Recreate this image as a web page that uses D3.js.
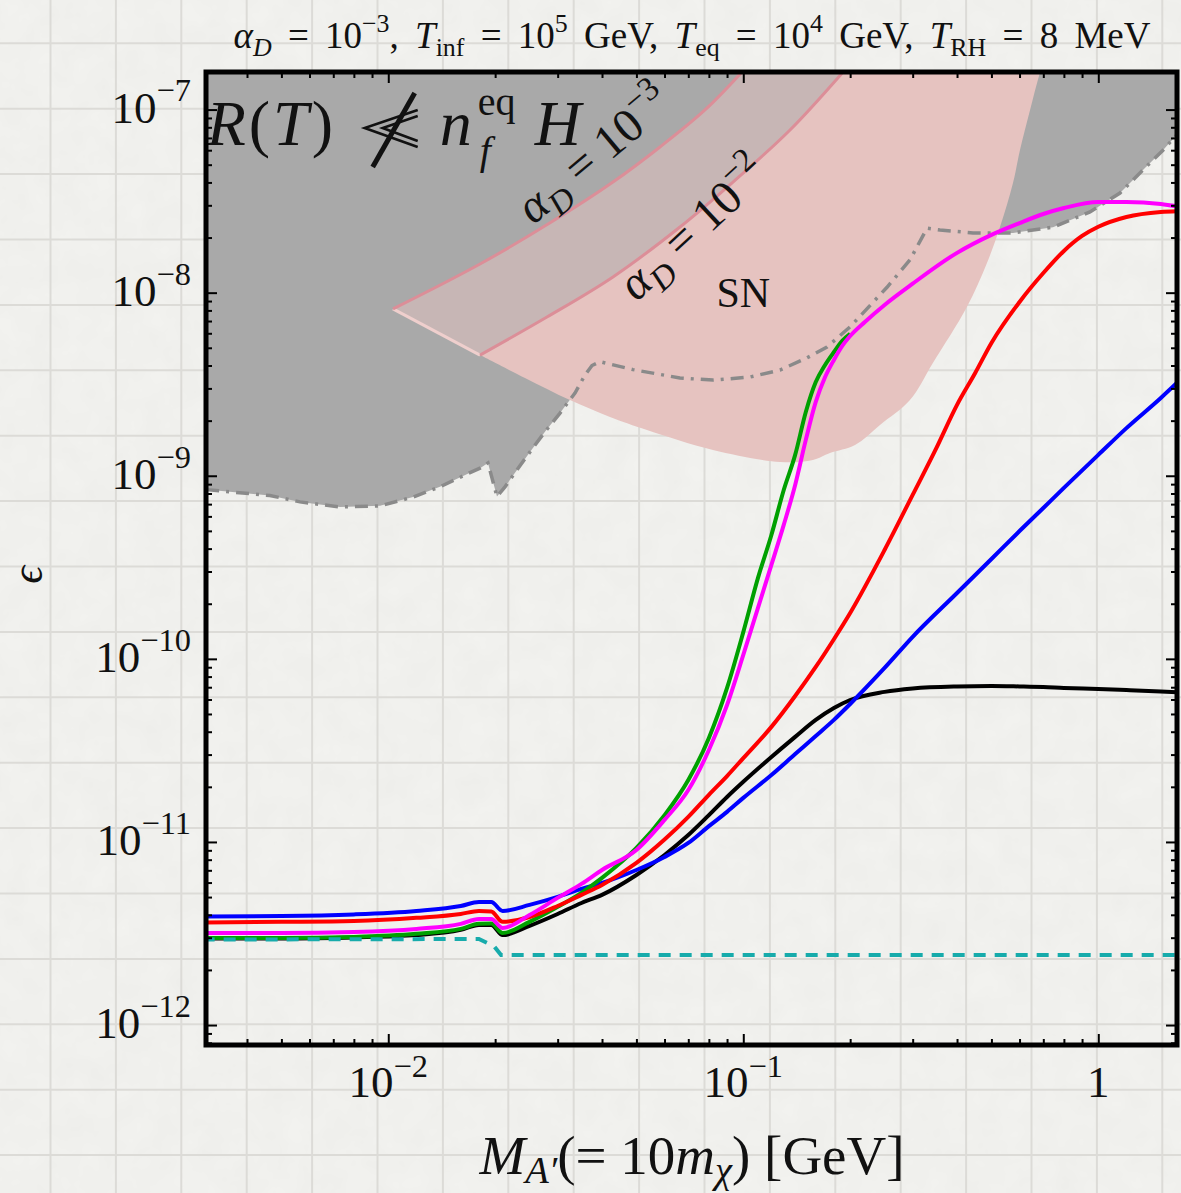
<!DOCTYPE html>
<html>
<head>
<meta charset="utf-8">
<script src="https://cdn.jsdelivr.net/npm/d3@7"></script>
<style>
  html, body { margin: 0; padding: 0; background: #f3f3f0; }
  svg { display: block; }
</style>
</head>
<body>
<svg id="chart" width="1181" height="1193"></svg>
<script>
// ---------------- data ----------------
// axis limits (dark-photon mass in GeV, kinetic mixing epsilon)
const xLimits = [0.003066, 1.666];
const yLimits = [7.78e-13, 1.604e-7];

const xMajorTicks = [0.01, 0.1, 1];
const xTickLabels = [["10", "\u22122"], ["10", "\u22121"], ["1", ""]];
const yMajorTicks = [1e-12, 1e-11, 1e-10, 1e-9, 1e-8, 1e-7];
const yTickLabels = [["10", "\u221212"], ["10", "\u221211"], ["10", "\u221210"], ["10", "\u22129"], ["10", "\u22128"], ["10", "\u22127"]];

// mass grid shared by the black and blue curves
const massGrid = [0.003, 0.005, 0.008, 0.012, 0.016, 0.018, 0.0195, 0.021, 0.025, 0.03,
  0.035, 0.04, 0.05, 0.06, 0.07, 0.08, 0.09, 0.1, 0.12, 0.14, 0.16, 0.18, 0.2, 0.25,
  0.3, 0.4, 0.5, 0.6, 0.7, 0.8, 1.0, 1.2, 1.5, 1.7];

const epsBlue = [3.92e-12, 3.94e-12, 4.02e-12, 4.20e-12, 4.47e-12, 4.70e-12, 4.70e-12, 4.20e-12,
  4.53e-12, 5.01e-12, 5.54e-12, 5.97e-12, 7.03e-12, 8.28e-12, 9.87e-12, 1.22e-11, 1.46e-11,
  1.74e-11, 2.32e-11, 3.02e-11, 3.79e-11, 4.64e-11, 5.67e-11, 8.92e-11, 1.32e-10, 2.29e-10,
  3.51e-10, 4.99e-10, 6.67e-10, 8.58e-10, 1.30e-9, 1.82e-9, 2.66e-9, 3.34e-9];

const epsBlack = [2.97e-12, 2.97e-12, 3.01e-12, 3.10e-12, 3.31e-12, 3.52e-12, 3.52e-12, 3.10e-12,
  3.48e-12, 4.04e-12, 4.64e-12, 5.14e-12, 6.60e-12, 8.49e-12, 1.09e-11, 1.40e-11, 1.76e-11,
  2.13e-11, 2.91e-11, 3.75e-11, 4.64e-11, 5.39e-11, 5.96e-11, 6.60e-11, 6.89e-11, 7.07e-11,
  7.11e-11, 7.07e-11, 7.02e-11, 6.94e-11, 6.85e-11, 6.76e-11, 6.64e-11, 6.56e-11];

const massRed = [0.003, 0.005, 0.008, 0.012, 0.016, 0.018, 0.0195, 0.021, 0.025, 0.03,
  0.035, 0.04, 0.05, 0.06, 0.07, 0.08, 0.09, 0.1, 0.12, 0.14, 0.16, 0.18, 0.2, 0.25,
  0.3, 0.35, 0.4, 0.45, 0.5, 0.6, 0.7, 0.8, 0.9, 1.0, 1.2, 1.5, 1.7];
const epsRed = [3.63e-12, 3.66e-12, 3.70e-12, 3.85e-12, 4.04e-12, 4.20e-12, 4.17e-12, 3.66e-12,
  3.89e-12, 4.47e-12, 5.14e-12, 5.82e-12, 7.68e-12, 1.03e-11, 1.37e-11, 1.81e-11, 2.29e-11,
  2.87e-11, 4.25e-11, 6.27e-11, 9.03e-11, 1.28e-10, 1.78e-10, 3.93e-10, 7.86e-10, 1.42e-9,
  2.44e-9, 3.64e-9, 5.31e-9, 8.90e-9, 1.28e-8, 1.69e-8, 2.04e-8, 2.29e-8, 2.59e-8, 2.76e-8, 2.79e-8];

const massMagenta = [0.003, 0.005, 0.008, 0.012, 0.016, 0.018, 0.0195, 0.021, 0.025, 0.03,
  0.035, 0.04, 0.05, 0.06, 0.07, 0.08, 0.09, 0.1, 0.11, 0.12, 0.13, 0.14, 0.15, 0.16, 0.17,
  0.18, 0.19, 0.2, 0.22, 0.25, 0.3, 0.4, 0.5, 0.6, 0.7, 0.8, 1.0, 1.2, 1.5, 1.7];
const epsMagenta = [3.18e-12, 3.18e-12, 3.22e-12, 3.35e-12, 3.57e-12, 3.80e-12, 3.80e-12, 3.39e-12,
  3.99e-12, 4.95e-12, 5.90e-12, 7.03e-12, 9.04e-12, 1.32e-11, 1.92e-11, 3.18e-11, 5.60e-11,
  1.05e-10, 1.90e-10, 3.26e-10, 5.39e-10, 8.91e-10, 1.57e-9, 2.53e-9, 3.46e-9, 4.29e-9,
  5.12e-9, 5.80e-9, 6.92e-9, 8.57e-9, 1.12e-8, 1.65e-8, 2.07e-8, 2.40e-8, 2.69e-8, 2.90e-8,
  3.13e-8, 3.13e-8, 3.05e-8, 2.94e-8];

const massGreen = [0.003, 0.005, 0.008, 0.012, 0.016, 0.018, 0.0195, 0.021, 0.025, 0.03,
  0.035, 0.04, 0.05, 0.06, 0.07, 0.08, 0.09, 0.1, 0.11, 0.12, 0.13, 0.14, 0.15, 0.16, 0.17,
  0.18, 0.19, 0.2];
const epsGreen = [2.99e-12, 2.99e-12, 3.03e-12, 3.15e-12, 3.35e-12, 3.57e-12, 3.59e-12, 3.18e-12,
  3.66e-12, 4.42e-12, 5.27e-12, 6.36e-12, 9.27e-12, 1.40e-11, 2.18e-11, 3.70e-11, 6.94e-11,
  1.40e-10, 2.77e-10, 4.75e-10, 8.36e-10, 1.30e-9, 2.23e-9, 3.25e-9, 4.03e-9, 4.74e-9,
  5.45e-9, 5.95e-9];

const massCyan = [0.003, 0.018, 0.01985, 0.02078, 1.7];
const epsCyan = [2.93e-12, 2.95e-12, 2.70e-12, 2.41e-12, 2.41e-12];

// lower edge of the region where R(T) is not << n_f^eq H
const grayEdgeMass = [0.00307, 0.00464, 0.00564, 0.00731, 0.00948, 0.01174, 0.01398, 0.01699,
  0.01813, 0.01909, 0.02024, 0.02132, 0.02275, 0.02507, 0.02763, 0.03046, 0.03357, 0.03582,
  0.03748, 0.03947, 0.0489, 0.0663, 0.0821, 0.1044, 0.1269, 0.1511, 0.1721, 0.1998, 0.254,
  0.2948, 0.3292, 0.3581, 0.4436, 0.575, 0.7455, 0.9476, 1.151, 1.336, 1.521, 1.666];
const grayEdgeEps = [8.4e-10, 7.8e-10, 7.2e-10, 6.75e-10, 6.85e-10, 7.65e-10, 8.7e-10, 1.04e-9,
  1.10e-9, 1.175e-9, 7.7e-10, 8.7e-10, 1.04e-9, 1.35e-9, 1.74e-9, 2.2e-9, 2.83e-9, 3.55e-9,
  4.0e-9, 4.2e-9, 3.8e-9, 3.42e-9, 3.33e-9, 3.46e-9, 3.78e-9, 4.4e-9, 5.05e-9, 6.5e-9, 1.07e-8,
  1.51e-8, 2.25e-8, 2.2e-8, 2.12e-8, 2.12e-8, 2.28e-8, 2.76e-8, 3.5e-8, 4.68e-8, 6.0e-8, 7.3e-8];

// supernova cooling bounds
const snA3Mass = [0.01031, 0.01813, 0.0291, 0.04295, 0.05827, 0.078, 0.09915, 0.1151];
const snA3Eps  = [8.15e-9, 1.434e-8, 2.46e-8, 4.02e-8, 6.25e-8, 9.95e-8, 1.605e-7, 2.25e-7];
const snA2Mass = [0.01813, 0.02799, 0.04295, 0.06633, 0.09354, 0.1354, 0.191, 0.2275];
const snA2Eps  = [4.56e-9, 7.36e-9, 1.219e-8, 2.285e-8, 4.02e-8, 7.74e-8, 1.605e-7, 2.4e-7];
const snLowMass = [0.01813, 0.02427, 0.03249, 0.04212, 0.05354, 0.08214, 0.1269, 0.1571, 0.1754,
  0.2064, 0.2427, 0.2948, 0.342, 0.4264, 0.4857, 0.5285, 0.575, 0.6017, 0.6423, 0.6852, 0.7311];
const snLowEps = [4.56e-9, 3.42e-9, 2.59e-9, 2.095e-9, 1.778e-9, 1.383e-9, 1.19e-9, 1.22e-9, 1.332e-9,
  1.473e-9, 1.894e-9, 2.59e-9, 4.13e-9, 8.35e-9, 1.452e-8, 2.285e-8, 3.97e-8, 6.02e-8, 9.95e-8,
  1.6e-7, 2.4e-7];

// ---------------- layout ----------------
const W = 1181, H = 1193;
const plot = { left: 206, right: 1177, top: 72, bottom: 1045 };
const serif = "'Liberation Serif', 'DejaVu Serif', serif";

const svg = d3.select("#chart");
const x = d3.scaleLog().domain(xLimits).range([plot.left, plot.right]);
const y = d3.scaleLog().domain(yLimits).range([plot.bottom, plot.top]);

const zip = (a, b) => a.map((v, i) => [v, b[i]]);
const line = d3.line().x(d => x(d[0])).y(d => y(d[1]));
const smooth = d3.line().x(d => x(d[0])).y(d => y(d[1])).curve(d3.curveMonotoneX);
const round = d3.line().x(d => x(d[0])).y(d => y(d[1])).curve(d3.curveCatmullRom.alpha(0.5));

// paper background with a square grid
const defs = svg.append("defs");
const noise = defs.append("filter").attr("id", "paper").attr("x", 0).attr("y", 0)
  .attr("width", 1).attr("height", 1);
noise.append("feTurbulence").attr("type", "fractalNoise").attr("baseFrequency", 0.035)
  .attr("numOctaves", 3).attr("seed", 4).attr("result", "n");
noise.append("feColorMatrix").attr("type", "matrix")
  .attr("values", "0 0 0 0 0.5  0 0 0 0 0.5  0 0 0 0 0.48  0 0 0 0.10 0");
svg.append("rect").attr("width", W).attr("height", H).attr("fill", "#f3f3f0");
svg.append("rect").attr("width", W).attr("height", H).attr("filter", "url(#paper)");

const gridStep = 65.4;
const grid = svg.append("g").attr("stroke", "#dcdbd7").attr("stroke-width", 2);
grid.selectAll("line.v").data(d3.range(50.5 - gridStep, W, gridStep)).join("line")
  .attr("x1", d => d).attr("x2", d => d).attr("y1", 0).attr("y2", H);
grid.selectAll("line.h").data(d3.range(43.3 - gridStep, H, gridStep)).join("line")
  .attr("y1", d => d).attr("y2", d => d).attr("x1", 0).attr("x2", W);

defs.append("clipPath").attr("id", "plotClip").append("rect")
  .attr("x", plot.left).attr("y", plot.top)
  .attr("width", plot.right - plot.left).attr("height", plot.bottom - plot.top);

const area = svg.append("g").attr("clip-path", "url(#plotClip)");

// excluded region: R(T) not << n_f^eq H
const grayEdge = zip(grayEdgeMass, grayEdgeEps);
const grayPoly = [[0.0029, 3e-7], [0.0029, grayEdgeEps[0]], ...grayEdge,
  [1.8, 1.2e-7], [1.8, 3e-7]];
area.append("path").attr("d", line(grayPoly) + "Z").attr("fill", "#a9a9a9");

// supernova region
const snA3 = zip(snA3Mass, snA3Eps);
const snA2 = zip(snA2Mass, snA2Eps);
const snLow = zip(snLowMass, snLowEps);
const a2Rev = snA2.slice().reverse();
area.append("path").attr("d", round(snLow) + round(a2Rev).replace(/^M/, "L") + "Z")
  .attr("fill", "#e6c3c0");
area.append("path").attr("d", round(snA3) + round(a2Rev).replace(/^M/, "L") + "Z")
  .attr("fill", "#c7b6b5");
area.append("path").attr("d", line([snA3[0], snA2[0]]))
  .attr("fill", "none").attr("stroke", "#efcfcd").attr("stroke-width", 3);
area.append("path").attr("d", round(snA3)).attr("fill", "none")
  .attr("stroke", "#dc8e98").attr("stroke-width", 3);
area.append("path").attr("d", round(snA2)).attr("fill", "none")
  .attr("stroke", "#dc8e98").attr("stroke-width", 3);

// dash-dotted edge of the gray region
area.append("path").attr("d", line(grayEdge)).attr("fill", "none")
  .attr("stroke", "#8a8a8a").attr("stroke-width", 3.5)
  .attr("stroke-dasharray", "13,7,3,7");

// rich text helper: parts are {t, i (italic), sup, sub}
function rich(parent, parts, size, opts = {}) {
  const t = parent.append("text").attr("font-family", serif).attr("font-size", size)
    .attr("fill", "#111");
  if (opts.anchor) t.attr("text-anchor", opts.anchor);
  let cur = 0;
  parts.forEach(p => {
    const off = p.sup ? -size * (opts.supRaise || 0.42) : p.sub ? size * (opts.subDrop || 0.22) : 0;
    const s = t.append("tspan").text(p.t).attr("dy", off - cur)
      .attr("font-size", (p.sup || p.sub) ? size * (opts.small || 0.7) : size)
      .attr("font-style", p.i ? "italic" : "normal");
    if (p.dx) s.attr("dx", p.dx);
    cur = off;
  });
  return t;
}

// band labels
const lab3 = area.append("g")
  .attr("transform", `translate(${x(0.0405)},${y(4.9e-8)}) rotate(-40)`);
rich(lab3, [{t: "\u03b1", i: true}, {t: "D", i: true, sub: true}, {t: " = 10"}, {t: "\u22123", sup: true}],
  48, { anchor: "middle" });
const lab2 = area.append("g")
  .attr("transform", `translate(${x(0.0775)},${y(1.95e-8)}) rotate(-43)`);
rich(lab2, [{t: "\u03b1", i: true}, {t: "D", i: true, sub: true}, {t: " = 10"}, {t: "\u22122", sup: true}],
  48, { anchor: "middle" });
area.append("text").attr("x", x(0.1)).attr("y", y(0.83e-8))
  .attr("text-anchor", "middle").attr("font-family", serif).attr("font-size", 42)
  .attr("fill", "#111").text("SN");

// R(T) not << n_f^eq H annotation
const ann = area.append("g").attr("transform", `translate(${x(0.00308)},${y(6.4e-8)})`);
const annText = ann.append("text").attr("font-family", serif).attr("font-size", 64)
  .attr("letter-spacing", 3).attr("fill", "#111");
annText.append("tspan").attr("font-style", "italic").text("R");
annText.append("tspan").text("(");
annText.append("tspan").attr("font-style", "italic").text("T");
annText.append("tspan").text(")");
ann.append("path").attr("d", "M211,-35 L158,-17 L211,2 M211,-29 L176,-17 L211,-4")
  .attr("fill", "none").attr("stroke", "#111").attr("stroke-width", 2.6);
ann.append("line").attr("x1", 166).attr("y1", 22).attr("x2", 208).attr("y2", -52)
  .attr("stroke", "#111").attr("stroke-width", 5);
ann.append("text").attr("x", 233).attr("font-family", serif).attr("font-size", 64)
  .attr("font-style", "italic").attr("fill", "#111").text("n");
ann.append("text").attr("x", 271).attr("y", -30).attr("font-family", serif).attr("font-size", 40)
  .attr("fill", "#111").text("eq");
ann.append("text").attr("x", 273).attr("y", 19).attr("font-family", serif).attr("font-size", 40)
  .attr("font-style", "italic").attr("fill", "#111").text("f");
ann.append("text").attr("x", 328).attr("font-family", serif).attr("font-size", 64)
  .attr("font-style", "italic").attr("fill", "#111").text("H");

// freeze-in curves
const curves = [
  { m: massGrid, e: epsBlack, c: "#000000" },
  { m: massGrid, e: epsBlue, c: "#0000ff" },
  { m: massGreen, e: epsGreen, c: "#00a000" },
  { m: massRed, e: epsRed, c: "#ff0000" },
  { m: massMagenta, e: epsMagenta, c: "#ff00ff" }
];
curves.forEach(cv => {
  area.append("path").attr("d", smooth(zip(cv.m, cv.e)))
    .attr("fill", "none").attr("stroke", cv.c).attr("stroke-width", 4)
    .attr("stroke-linejoin", "round");
});
area.append("path").attr("d", line(zip(massCyan, epsCyan)))
  .attr("fill", "none").attr("stroke", "#17abab").attr("stroke-width", 4)
  .attr("stroke-dasharray", "12,9");

// axes: inward ticks on all four sides
function minorTicks(lo, hi) {
  const out = [];
  for (let e = Math.floor(Math.log10(lo)); e <= Math.ceil(Math.log10(hi)); e++) {
    for (let k = 2; k <= 9; k++) {
      const v = k * Math.pow(10, e);
      if (v > lo && v < hi) out.push(v);
    }
  }
  return out;
}
const xMinor = minorTicks(xLimits[0], xLimits[1]);
const yMinor = minorTicks(yLimits[0], yLimits[1]);

function drawAxis(axisFn, scale, major, minor, transform) {
  const g1 = svg.append("g").attr("transform", transform)
    .call(axisFn(scale).tickValues(major).tickSize(-11).tickFormat(() => ""));
  const g2 = svg.append("g").attr("transform", transform)
    .call(axisFn(scale).tickValues(minor).tickSize(-6).tickFormat(() => ""));
  [g1, g2].forEach(g => {
    g.select(".domain").remove();
    g.selectAll(".tick line").attr("stroke", "#000").attr("stroke-width", 2);
  });
}
drawAxis(d3.axisBottom, x, xMajorTicks, xMinor, `translate(0,${plot.bottom})`);
drawAxis(d3.axisTop, x, xMajorTicks, xMinor, `translate(0,${plot.top})`);
drawAxis(d3.axisLeft, y, yMajorTicks, yMinor, `translate(${plot.left},0)`);
drawAxis(d3.axisRight, y, yMajorTicks, yMinor, `translate(${plot.right},0)`);

svg.append("rect").attr("x", plot.left).attr("y", plot.top)
  .attr("width", plot.right - plot.left).attr("height", plot.bottom - plot.top)
  .attr("fill", "none").attr("stroke", "#000").attr("stroke-width", 5);

// tick labels
xMajorTicks.forEach((v, i) => {
  const [base, exp] = xTickLabels[i];
  const g = svg.append("g").attr("transform", `translate(${x(v)},${plot.bottom + 52})`);
  const parts = [{t: base}];
  if (exp) parts.push({t: exp, sup: true});
  rich(g, parts, 45, { anchor: "middle", supRaise: 0.45, small: 0.72 });
});
yMajorTicks.forEach((v, i) => {
  const [base, exp] = yTickLabels[i];
  const g = svg.append("g").attr("transform", `translate(${plot.left - 15},${y(v) + 13})`);
  rich(g, [{t: base}, {t: exp, sup: true}], 45, { anchor: "end", supRaise: 0.47, small: 0.72 });
});

// axis titles
const xt = svg.append("g").attr("transform", `translate(692,1174)`);
rich(xt, [{t: "M", i: true}, {t: "A\u2032", i: true, sub: true}, {t: "(= 10"}, {t: "m", i: true},
  {t: "\u03c7", i: true, sub: true}, {t: ") [GeV]"}], 55, { anchor: "middle", subDrop: 0.17 });
svg.append("text").attr("transform", "translate(42,575) rotate(-90)")
  .attr("text-anchor", "middle").attr("font-family", serif).attr("font-size", 44)
  .attr("font-style", "italic").attr("fill", "#111").text("\u03f5");

// title
const tt = svg.append("g").attr("transform", "translate(692,48)");
rich(tt, [
  {t: "\u03b1", i: true}, {t: "D", i: true, sub: true}, {t: " = 10"}, {t: "\u22123", sup: true},
  {t: ", "}, {t: "T", i: true}, {t: "inf", sub: true}, {t: " = 10"}, {t: "5", sup: true},
  {t: " GeV, "}, {t: "T", i: true}, {t: "eq", sub: true}, {t: " = 10"}, {t: "4", sup: true},
  {t: " GeV, "}, {t: "T", i: true}, {t: "RH", sub: true}, {t: " = 8 MeV"}
], 37, { anchor: "middle" }).attr("word-spacing", 7);
</script>
</body>
</html>
